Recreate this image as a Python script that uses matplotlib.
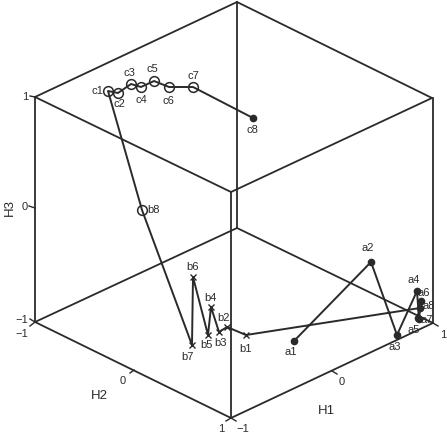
import matplotlib
matplotlib.use('Agg')
import matplotlib.pyplot as plt

plt.rcParams['font.family'] = ['Liberation Sans', 'DejaVu Sans']

# everything, in picture coordinates
box_x = [[35, 237, 432, 231, 35], [35, 237, 433, 231, 35], [35, 35], [231, 231], [237, 237], [433, 433]]
box_y = [[97, 2, 98, 192, 97], [322, 228, 323, 418, 322], [97, 322], [192, 418], [2, 228], [98, 323]]

tick_x = [[30, 35], [29, 35], [30, 35], [30, 35], [130, 134], [226, 231], [236, 231], [332, 337], [433, 438]]
tick_y = [[96, 97], [206, 208], [319, 322], [326, 322], [373, 370], [421, 418], [421, 418], [371, 374], [323, 326]]

a_names = ['a1', 'a2', 'a3', 'a4', 'a5', 'a6', 'a7', 'a8']
a_x = [294, 371, 397, 417, 419, 421, 418, 420]
a_y = [341, 262, 335, 291, 319, 301, 318, 308]
a_lx = [291, 368, 395, 414, 414, 424, 427, 429]
a_ly = [352, 248, 347, 280, 330, 293, 320, 306]

b_names = ['b1', 'b2', 'b3', 'b4', 'b5', 'b6', 'b7', 'b8']
b_x = [246, 227, 219, 211, 208, 193, 192, 142]
b_y = [335, 327, 332, 307, 335, 277, 345, 210]
b_lx = [246, 224, 221, 210, 206, 193, 187, 154]
b_ly = [349, 318, 343, 298, 345, 267, 357, 210]

c_names = ['c1', 'c2', 'c3', 'c4', 'c5', 'c6', 'c7', 'c8']
c_x = [108, 118, 131, 141, 154, 169, 193, 253]
c_y = [91, 93, 84, 87, 81, 87, 87, 118]
c_lx = [97, 119, 129, 141, 152, 168, 193, 252]
c_ly = [91, 104, 73, 100, 69, 101, 76, 130]

tick_labels = [(25, 97, '1'), (25, 207, '0'), (22, 320, '\u22121'), (22, 334, '\u22121'),
               (123, 381, '0'), (221, 429, '1'), (243, 429, '\u22121'), (342, 382, '0'), (443, 335, '1')]
axis_labels = [(10, 207, 'H3', 90), (99, 396, 'H2', 0), (326, 411, 'H1', 0)]

fig = plt.figure(figsize=(4.47, 4.36), dpi=100)
ax = fig.add_axes([0, 0, 1, 1])
ax.set_xlim(0, 447)
ax.set_ylim(436, 0)
ax.axis('off')

ink = '#2a2a2a'
for x, y in zip(box_x, box_y):
    ax.plot(x, y, color=ink, lw=1.3)
for x, y in zip(tick_x, tick_y):
    ax.plot(x, y, color=ink, lw=1)

# one path runs a1..a8, b1..b8, c1..c8
ax.plot(a_x + b_x + c_x, a_y + b_y + c_y, color=ink, lw=1.4)
ax.plot(a_x, a_y, ls='none', color=ink, marker='o', ms=4.5)
ax.plot(b_x[:7], b_y[:7], ls='none', color=ink, marker='x', ms=4, mew=1)
ax.plot(b_x[7:], b_y[7:], ls='none', color=ink, marker='o', ms=7, mfc='none', mew=1.1)
ax.plot(c_x[:7], c_y[:7], ls='none', color=ink, marker='o', ms=7, mfc='none', mew=1.1)
ax.plot(c_x[7:], c_y[7:], ls='none', color=ink, marker='o', ms=4.5)

for names, lx, ly in [(a_names, a_lx, a_ly), (b_names, b_lx, b_ly), (c_names, c_lx, c_ly)]:
    for n, x, y in zip(names, lx, ly):
        ax.text(x, y, n, fontsize=8, ha='center', va='center', color=ink)

for x, y, s in tick_labels:
    ax.text(x, y, s, fontsize=8, ha='center', va='center', color=ink)
for x, y, s, r in axis_labels:
    ax.text(x, y, s, fontsize=9.5, ha='center', va='center', rotation=r, color=ink)

fig.savefig('out.png', dpi=100)
